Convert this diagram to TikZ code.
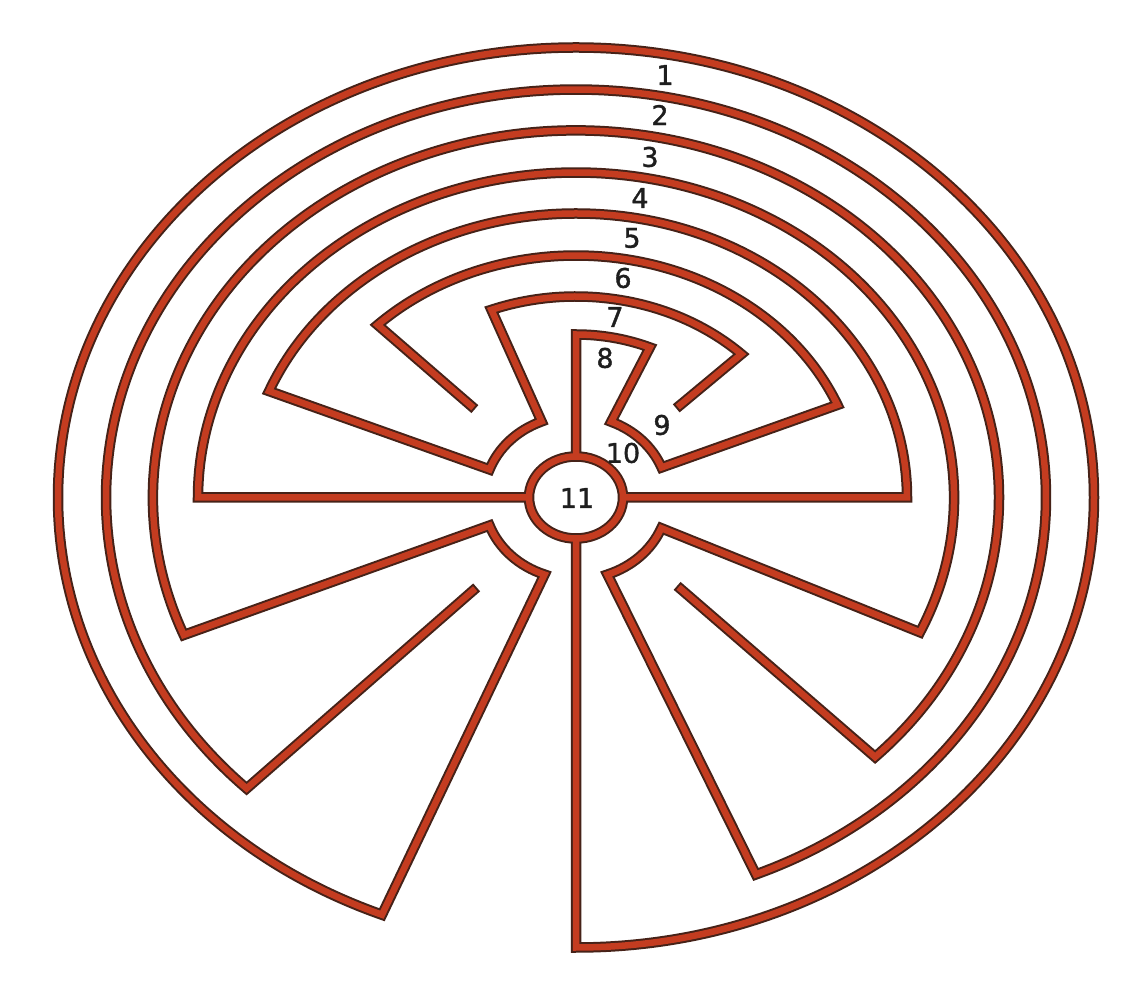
\documentclass[tikz,border=0pt]{standalone}
\usepackage{fontspec}
\setmainfont{DejaVu Sans}[FakeBold=1.3]
\definecolor{wallred}{RGB}{196,60,32}
\definecolor{walldark}{RGB}{70,34,24}
\definecolor{labelgray}{RGB}{30,30,30}
\begin{document}
\begin{tikzpicture}[x=1pt,y=1pt,
  lbl/.style={inner sep=0pt, text=labelgray, font=\fontsize{27}{29}\selectfont}]
\useasboundingbox[fill=white] (0,0) rectangle (1128,986);
\begin{scope}[shift={(576,488.5)}]
\foreach \lw/\col/\sh in {10.5/walldark/0pt,6.5/wallred/2pt}{
  \begin{scope}[line width=\lw pt, draw=\col, line join=miter, line cap=butt]
  % chain 1: entrance, ring 1, ring 3, spur
  \draw[shorten >=\sh] (-90:47 and 41) -- (-90:518 and 450)
    arc[start angle=-90, end angle=248, x radius=518, y radius=450]
    -- (250:92 and 82)
    arc[start angle=250, end angle=200, x radius=92, y radius=82]
    -- (202:423 and 367)
    arc[start angle=202, end angle=-45, x radius=423, y radius=367]
    -- (-45:143 and 125);
  % chain 2: spur, ring 2, ring 4, left bar
  \draw[shorten <=\sh] (226:143 and 125) -- (225.5:470 and 408)
    arc[start angle=225.5, end angle=-67.5, x radius=470, y radius=408]
    -- (-70:92 and 82)
    arc[start angle=-70, end angle=-22, x radius=92, y radius=82]
    -- (-24.5:378 and 325)
    arc[start angle=-24.5, end angle=180, x radius=378, y radius=325]
    -- (180:47 and 41);
  % chain 3: right bar, ring 5, ring 7, spur
  \draw[shorten >=\sh] (0:47 and 41) -- (0:331 and 284)
    arc[start angle=0, end angle=158, x radius=331, y radius=284]
    -- (160:92 and 82)
    arc[start angle=160, end angle=112, x radius=92, y radius=82]
    -- (111:236 and 201)
    arc[start angle=111, end angle=45.5, x radius=236, y radius=201]
    -- (45.5:143 and 125);
  % chain 4: spur, ring 6, ring 8, top bar
  \draw[shorten <=\sh] (135:143 and 125) -- (134.5:283 and 242)
    arc[start angle=134.5, end angle=22.5, x radius=283, y radius=242]
    -- (21.5:92 and 82)
    arc[start angle=21.5, end angle=67.5, x radius=92, y radius=82]
    -- (67:189 and 163)
    arc[start angle=67, end angle=90, x radius=189, y radius=163]
    -- (90:47 and 41);
  % centre ring
  \draw (0,0) ellipse[x radius=47, y radius=41];
  \end{scope}
}
\node[lbl] (l1) at (89,422.5) {1};
\node[lbl] (l2) at (84,382.5) {2};
\node[lbl] (l3) at (74,340.5) {3};
\node[lbl] (l4) at (64,299.5) {4};
\node[lbl] (l5) at (56,259.5) {5};
\node[lbl] (l6) at (47,219.5) {6};
\node[lbl] (l7) at (39,180.5) {7};
\node[lbl] (l8) at (29,139.5) {8};
\node[lbl] (l9) at (86,72.5) {9};
\node[lbl] (l10) at (47,44.5) {10};
\node[lbl] (l11) at (1,-0.5) {11};
\end{scope}
\end{tikzpicture}
\end{document}
